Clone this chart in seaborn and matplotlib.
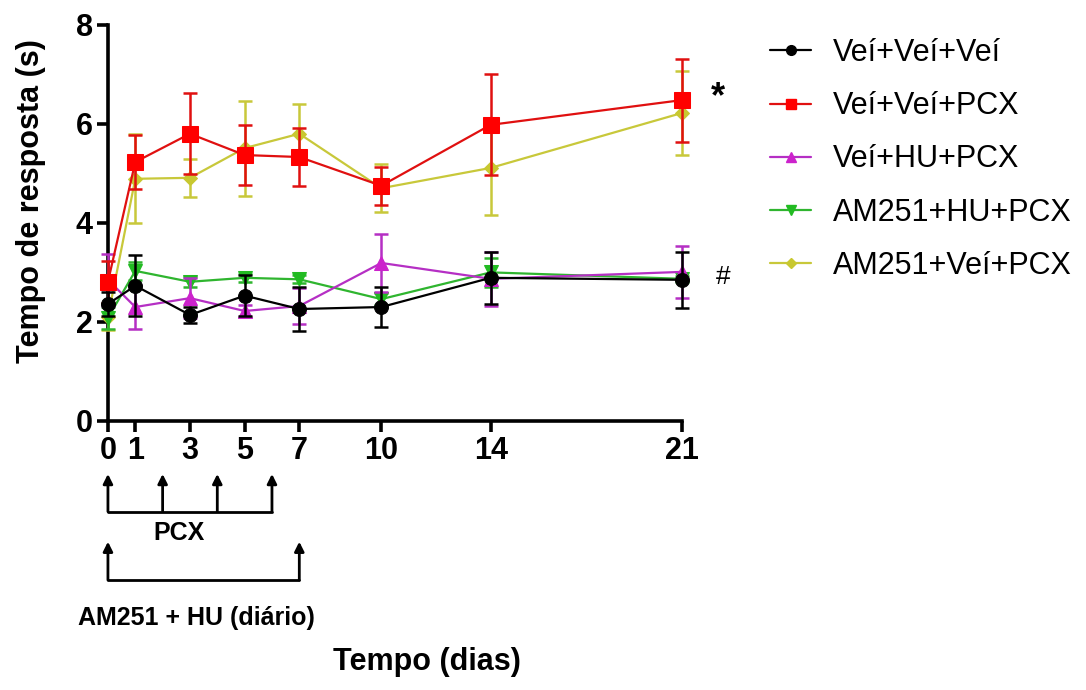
import matplotlib
matplotlib.use('Agg')
from matplotlib import pyplot as plt
from matplotlib.lines import Line2D
import pandas as pd
import seaborn as sns

days = [0, 1, 3, 5, 7, 10, 14, 21]
groups = ['Veí+Veí+Veí', 'Veí+Veí+PCX', 'Veí+HU+PCX', 'AM251+HU+PCX', 'AM251+Veí+PCX']

vei_vei_vei = [2.36, 2.73, 2.14, 2.53, 2.26, 2.30, 2.89, 2.85]
vei_vei_vei_sem = [0.24, 0.62, 0.16, 0.42, 0.44, 0.40, 0.52, 0.56]
vei_vei_pcx = [2.81, 5.23, 5.80, 5.37, 5.33, 4.75, 5.98, 6.48]
vei_vei_pcx_sem = [0.42, 0.54, 0.82, 0.60, 0.58, 0.38, 1.02, 0.84]
vei_hu_pcx = [2.85, 2.30, 2.48, 2.22, 2.32, 3.19, 2.87, 3.01]
vei_hu_pcx_sem = [0.52, 0.44, 0.40, 0.13, 0.36, 0.59, 0.55, 0.53]
am_hu_pcx = [2.08, 3.03, 2.81, 2.89, 2.86, 2.46, 3.00, 2.87]
am_hu_pcx_sem = [0.22, 0.18, 0.10, 0.08, 0.08, 0.12, 0.30, 0.06]
am_vei_pcx = [2.10, 4.89, 4.91, 5.51, 5.80, 4.70, 5.11, 6.22]
am_vei_pcx_sem = [0.26, 0.90, 0.38, 0.96, 0.60, 0.48, 0.95, 0.85]

means = [vei_vei_vei, vei_vei_pcx, vei_hu_pcx, am_hu_pcx, am_vei_pcx]
sems = [vei_vei_vei_sem, vei_vei_pcx_sem, vei_hu_pcx_sem, am_hu_pcx_sem, am_vei_pcx_sem]

colors = {'Veí+Veí+Veí': '#000000', 'Veí+Veí+PCX': '#e01010', 'Veí+HU+PCX': '#b52fc4',
          'AM251+HU+PCX': '#2fb52f', 'AM251+Veí+PCX': '#c8c83a'}
marker_colors = {'Veí+Veí+Veí': '#000000', 'Veí+Veí+PCX': '#ff0000', 'Veí+HU+PCX': '#cc22cc',
                 'AM251+HU+PCX': '#22bb22', 'AM251+Veí+PCX': '#c8c830'}
markers = {'Veí+Veí+Veí': 'o', 'Veí+Veí+PCX': 's', 'Veí+HU+PCX': '^',
           'AM251+HU+PCX': 'v', 'AM251+Veí+PCX': 'D'}
msizes = {'Veí+Veí+Veí': 10, 'Veí+Veí+PCX': 11, 'Veí+HU+PCX': 10,
          'AM251+HU+PCX': 10, 'AM251+Veí+PCX': 7}
zorders = {'AM251+Veí+PCX': 3, 'AM251+HU+PCX': 4, 'Veí+HU+PCX': 5, 'Veí+Veí+PCX': 6, 'Veí+Veí+Veí': 7}

pcx_days = [0, 2, 4, 6]
am_days = [0, 7]

rows = []
for g, m, s in zip(groups, means, sems):
    for d, v, e in zip(days, m, s):
        rows.append({'dia': d, 'tempo': v, 'sem': e, 'grupo': g})
df = pd.DataFrame(rows)

sns.set_style('ticks')
plt.rcParams['font.family'] = ['Liberation Sans', 'DejaVu Sans']
plt.rcParams['text.color'] = 'black'
plt.rcParams['axes.labelcolor'] = 'black'

fig = plt.figure(figsize=(10.86, 6.9), dpi=100)
ax = fig.add_axes([0.0994, 0.390, 0.5286, 0.574])

for g in ['AM251+Veí+PCX', 'AM251+HU+PCX', 'Veí+HU+PCX', 'Veí+Veí+PCX', 'Veí+Veí+Veí']:
    sub = df[df['grupo'] == g]
    ax.errorbar(sub['dia'], sub['tempo'], yerr=sub['sem'], fmt='none', ecolor=colors[g],
                elinewidth=1.8, capsize=5, capthick=1.8, zorder=zorders[g], clip_on=False)
    sns.lineplot(data=sub, x='dia', y='tempo', ax=ax, color=colors[g], marker=markers[g],
                 markersize=msizes[g], markerfacecolor=marker_colors[g],
                 markeredgecolor=marker_colors[g], linewidth=1.6, zorder=zorders[g],
                 clip_on=False, legend=False)

ax.set_xlim(0, 21)
ax.set_ylim(0, 8)
ax.set_xticks(days)
ax.set_yticks([0, 2, 4, 6, 8])
sns.despine(ax=ax)
for sp in ['left', 'bottom']:
    ax.spines[sp].set_linewidth(2.6)
    ax.spines[sp].set_color('black')
ax.tick_params(axis='both', length=8, width=2.6, pad=3, labelsize=22, colors='black')
for lbl in ax.get_xticklabels() + ax.get_yticklabels():
    lbl.set_fontweight('bold')

ax.set_xlabel('Tempo (dias)', fontsize=22, fontweight='bold')
ax.set_ylabel('Tempo de resposta (s)', fontsize=22, fontweight='bold')
ax.xaxis.set_label_coords(0.556, -0.572)
ax.yaxis.set_label_coords(-0.108, 0.556)

ax.text(22.3, 6.52, '*', fontsize=26, fontweight='bold', ha='center', va='center')
ax.text(22.5, 2.91, '#', fontsize=19, ha='center', va='center')

# esquema de tratamento abaixo do eixo
tr = ax.get_xaxis_transform()
arrow = dict(arrowstyle='-|>', lw=2, color='black', mutation_scale=14, shrinkA=0, shrinkB=0)
for d in pcx_days:
    ax.annotate('', xy=(d, -0.134), xytext=(d, -0.229), xycoords=tr, textcoords=tr,
                arrowprops=arrow, annotation_clip=False)
ax.plot([pcx_days[0], pcx_days[-1]], [-0.229, -0.229], color='black', lw=2,
        transform=tr, clip_on=False)
ax.text(2.6, -0.283, 'PCX', transform=tr, fontsize=18, fontweight='bold', ha='center', va='center')
for d in am_days:
    ax.annotate('', xy=(d, -0.305), xytext=(d, -0.402), xycoords=tr, textcoords=tr,
                arrowprops=arrow, annotation_clip=False)
ax.plot([am_days[0], am_days[-1]], [-0.402, -0.402], color='black', lw=2,
        transform=tr, clip_on=False)
ax.text(-1.1, -0.497, 'AM251 + HU (diário)', transform=tr, fontsize=18, fontweight='bold',
        ha='left', va='center')

handles = [Line2D([], [], color=colors[g], marker=markers[g], markersize=msizes[g] * 0.7,
                  markerfacecolor=marker_colors[g], markeredgecolor=marker_colors[g], lw=1.6)
           for g in groups]
fig.legend(handles, groups, loc='upper left', bbox_to_anchor=(770 / 1086, 1 - 38 / 690),
           frameon=False, fontsize=22, handlelength=1.35, handletextpad=0.7,
           labelspacing=0.76, borderpad=0, borderaxespad=0)

fig.savefig('out.png', dpi=100)
